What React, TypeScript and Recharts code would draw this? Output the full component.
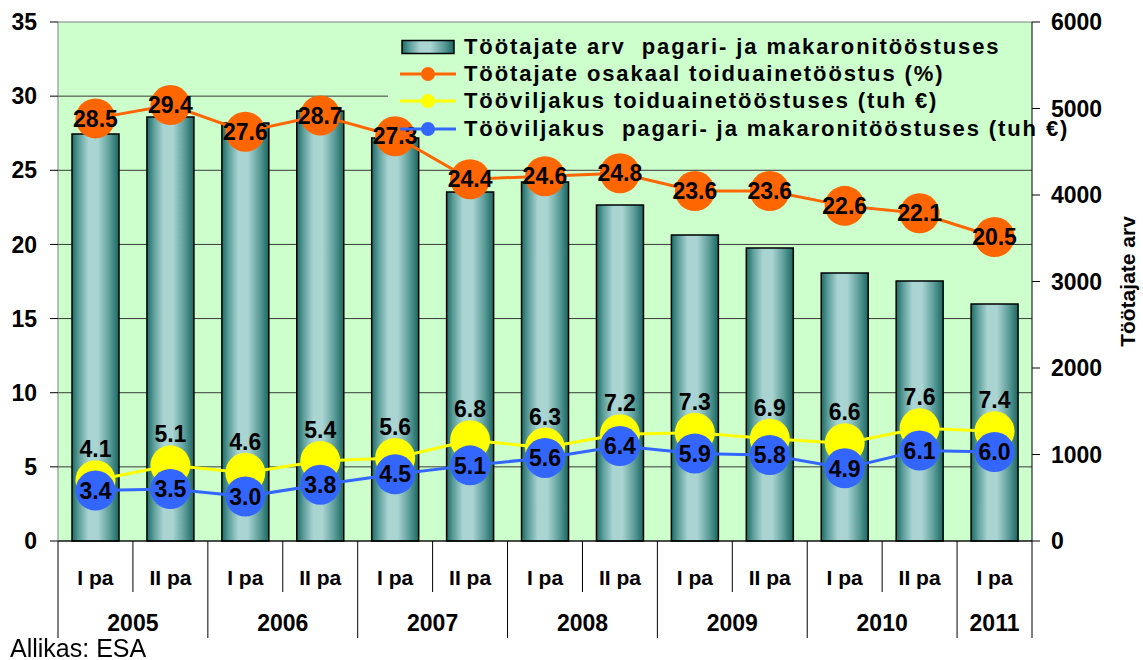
import {
  ComposedChart,
  Bar,
  Line,
  XAxis,
  YAxis,
  CartesianGrid,
  LabelList,
} from "recharts";

const periods = ["I pa", "II pa", "I pa", "II pa", "I pa", "II pa", "I pa", "II pa", "I pa", "II pa", "I pa", "II pa", "I pa"];
const years = ["2005", "2006", "2007", "2008", "2009", "2010", "2011"];

// right axis: töötajate arv
const employees = [4705, 4902, 4832, 4971, 4659, 4035, 4150, 3884, 3538, 3387, 3098, 3006, 2740];
// left axis
const sharePct = [28.5, 29.4, 27.6, 28.7, 27.3, 24.4, 24.6, 24.8, 23.6, 23.6, 22.6, 22.1, 20.5];
const foodProductivity = [4.1, 5.1, 4.6, 5.4, 5.6, 6.8, 6.3, 7.2, 7.3, 6.9, 6.6, 7.6, 7.4];
const bakeryProductivity = [3.4, 3.5, 3.0, 3.8, 4.5, 5.1, 5.6, 6.4, 5.9, 5.8, 4.9, 6.1, 6.0];

const leftTicks = [0, 5, 10, 15, 20, 25, 30, 35];
const rightTicks = [0, 1000, 2000, 3000, 4000, 5000, 6000];

const legendNames = [
  "Töötajate arv  pagari- ja makaronitööstuses",
  "Töötajate osakaal toiduainetööstus (%)",
  "Tööviljakus toiduainetööstuses (tuh €)",
  "Tööviljakus  pagari- ja makaronitööstuses (tuh €)",
];

const ORANGE = "#ff6600";
const YELLOW = "#ffff00";
const BLUE = "#3366ff";
const FONT = "'Liberation Sans', Arial, sans-serif";

const data = periods.map((p, i) => ({
  key: `${years[Math.floor(i / 2)]} ${p}`,
  employees: employees[i],
  share: sharePct[i],
  food: foodProductivity[i],
  bakery: bakeryProductivity[i],
}));

const fmt = (v: any) => Number(v).toFixed(1);

function CategoryTick(props: any) {
  const { x, y, payload } = props;
  const i = payload.index;
  const half = payload.offset || 37.5;
  const yearStart = i % 2 === 0;
  const last = i === periods.length - 1;
  return (
    <g>
      <line x1={x - half} y1={y} x2={x - half} y2={y + (yearStart ? 97 : 51)} stroke="#000" strokeWidth={1} />
      {last && <line x1={x + half} y1={y} x2={x + half} y2={y + 97} stroke="#000" strokeWidth={1} />}
      <text x={x} y={y + 36} textAnchor="middle" dominantBaseline="central" fontFamily={FONT} fontWeight="bold" fontSize={21} fill="#000">
        {periods[i]}
      </text>
      {yearStart && (
        <text
          x={last ? x : x + half}
          y={y + 82}
          textAnchor="middle"
          dominantBaseline="central"
          fontFamily={FONT}
          fontWeight="bold"
          fontSize={23}
          fill="#000"
        >
          {years[i / 2]}
        </text>
      )}
    </g>
  );
}

// grid lines hidden behind the legend box stop at its left edge
function gridLine(p: any) {
  const isTop = p.y1 < 30;
  const underLegend = p.y1 > 60 && p.y1 < 145;
  return (
    <line
      key={`g-${p.index}-${p.y1}`}
      x1={p.x1}
      y1={p.y1}
      x2={underLegend ? 388 : p.x2}
      y2={p.y2}
      stroke={isTop ? "#808080" : "#3a3a3a"}
      strokeWidth={1}
    />
  );
}

function RightTitle(props: any) {
  const vb = props.viewBox || { x: 1032, y: 22, width: 111, height: 519 };
  const cx = vb.x + 95;
  const cy = vb.y + vb.height / 2;
  return (
    <text
      x={cx}
      y={cy}
      transform={`rotate(-90 ${cx} ${cy})`}
      textAnchor="middle"
      dominantBaseline="central"
      fontFamily={FONT}
      fontWeight="bold"
      fontSize={21}
      fill="#000"
    >
      Töötajate arv
    </text>
  );
}

function LegendBox() {
  const colors = [ORANGE, YELLOW, BLUE];
  return (
    <div style={{ position: "absolute", left: 400, top: 33, fontFamily: FONT }}>
      {legendNames.map((name, i) => (
        <div key={name} style={{ display: "flex", alignItems: "center", height: 27.3 }}>
          <svg width={56} height={20} style={{ flex: "none" }}>
            {i === 0 ? (
              <rect x={2} y={3.5} width={52} height={13} fill="url(#barGrad)" stroke="#000" strokeWidth={1.5} />
            ) : (
              <>
                <line x1={0} y1={10} x2={56} y2={10} stroke={colors[i - 1]} strokeWidth={3} />
                <circle cx={28} cy={10} r={7} fill={colors[i - 1]} />
              </>
            )}
          </svg>
          <span
            style={{
              marginLeft: 8,
              fontSize: 22,
              fontWeight: "bold",
              letterSpacing: 1.9,
              whiteSpace: "pre",
              color: "#000",
            }}
          >
            {name}
          </span>
        </div>
      ))}
    </div>
  );
}

const labelStyle = { fill: "#000", fontSize: 23, fontWeight: "bold", fontFamily: FONT };
const tickStyle = { fill: "#000", fontSize: 23, fontWeight: "bold", fontFamily: FONT };

export default function App() {
  return (
    <div style={{ position: "fixed", left: 0, top: 0, width: 1143, height: 660, background: "#fff" }}>
      <svg width={0} height={0} style={{ position: "absolute" }}>
        <defs>
          <linearGradient id="barGrad" x1="0" y1="0" x2="1" y2="0">
            <stop offset="0%" stopColor="#1c6a65" />
            <stop offset="15%" stopColor="#5e9f9c" />
            <stop offset="35%" stopColor="#a9d4d2" />
            <stop offset="55%" stopColor="#a9d4d2" />
            <stop offset="80%" stopColor="#5c9d99" />
            <stop offset="100%" stopColor="#1a6661" />
          </linearGradient>
        </defs>
      </svg>
      <ComposedChart
        width={1143}
        height={660}
        data={data}
        margin={{ top: 22, right: 0, bottom: 0, left: 0 }}
        style={{ fontFamily: FONT }}
      >
        <CartesianGrid yAxisId="left" vertical={false} horizontal={gridLine} fill="#ccffcc" />
        <XAxis
          dataKey="key"
          height={119}
          interval={0}
          tickSize={0}
          tickMargin={0}
          tickLine={false}
          axisLine={{ stroke: "#000", strokeWidth: 1 }}
          tick={<CategoryTick />}
        />
        <YAxis
          yAxisId="left"
          orientation="left"
          width={58}
          domain={[0, 35]}
          ticks={leftTicks}
          interval={0}
          tickSize={8}
          tickMargin={13}
          axisLine={{ stroke: "#808080" }}
          tickLine={{ stroke: "#000" }}
          tick={tickStyle}
        />
        <YAxis
          yAxisId="right"
          orientation="right"
          width={111}
          domain={[0, 6000]}
          ticks={rightTicks}
          interval={0}
          tickSize={8}
          tickMargin={11}
          axisLine={{ stroke: "#000" }}
          tickLine={{ stroke: "#000" }}
          tick={tickStyle}
          label={<RightTitle />}
        />
        <Bar
          yAxisId="right"
          dataKey="employees"
          name={legendNames[0]}
          barSize={47}
          fill="url(#barGrad)"
          stroke="#000"
          strokeWidth={1.5}
          isAnimationActive={false}
        />
        <Line
          yAxisId="left"
          dataKey="share"
          name={legendNames[1]}
          stroke={ORANGE}
          strokeWidth={3}
          dot={{ r: 20, fill: ORANGE, stroke: ORANGE, strokeWidth: 0 }}
          activeDot={false}
          isAnimationActive={false}
        >
          <LabelList dataKey="share" position="center" formatter={fmt} {...labelStyle} />
        </Line>
        <Line
          yAxisId="left"
          dataKey="food"
          name={legendNames[2]}
          stroke={YELLOW}
          strokeWidth={3}
          dot={{ r: 20, fill: YELLOW, stroke: YELLOW, strokeWidth: 0 }}
          activeDot={false}
          isAnimationActive={false}
        >
          <LabelList dataKey="food" position="top" offset={23} formatter={fmt} {...labelStyle} />
        </Line>
        <Line
          yAxisId="left"
          dataKey="bakery"
          name={legendNames[3]}
          stroke={BLUE}
          strokeWidth={3}
          dot={{ r: 20, fill: BLUE, stroke: BLUE, strokeWidth: 0 }}
          activeDot={false}
          isAnimationActive={false}
        >
          <LabelList dataKey="bakery" position="center" formatter={fmt} {...labelStyle} />
        </Line>
      </ComposedChart>
      <LegendBox />
      <div
        style={{
          position: "absolute",
          left: 10,
          top: 634,
          fontFamily: FONT,
          fontSize: 25,
          color: "#000",
          lineHeight: "28px",
        }}
      >
        Allikas: ESA
      </div>
    </div>
  );
}
